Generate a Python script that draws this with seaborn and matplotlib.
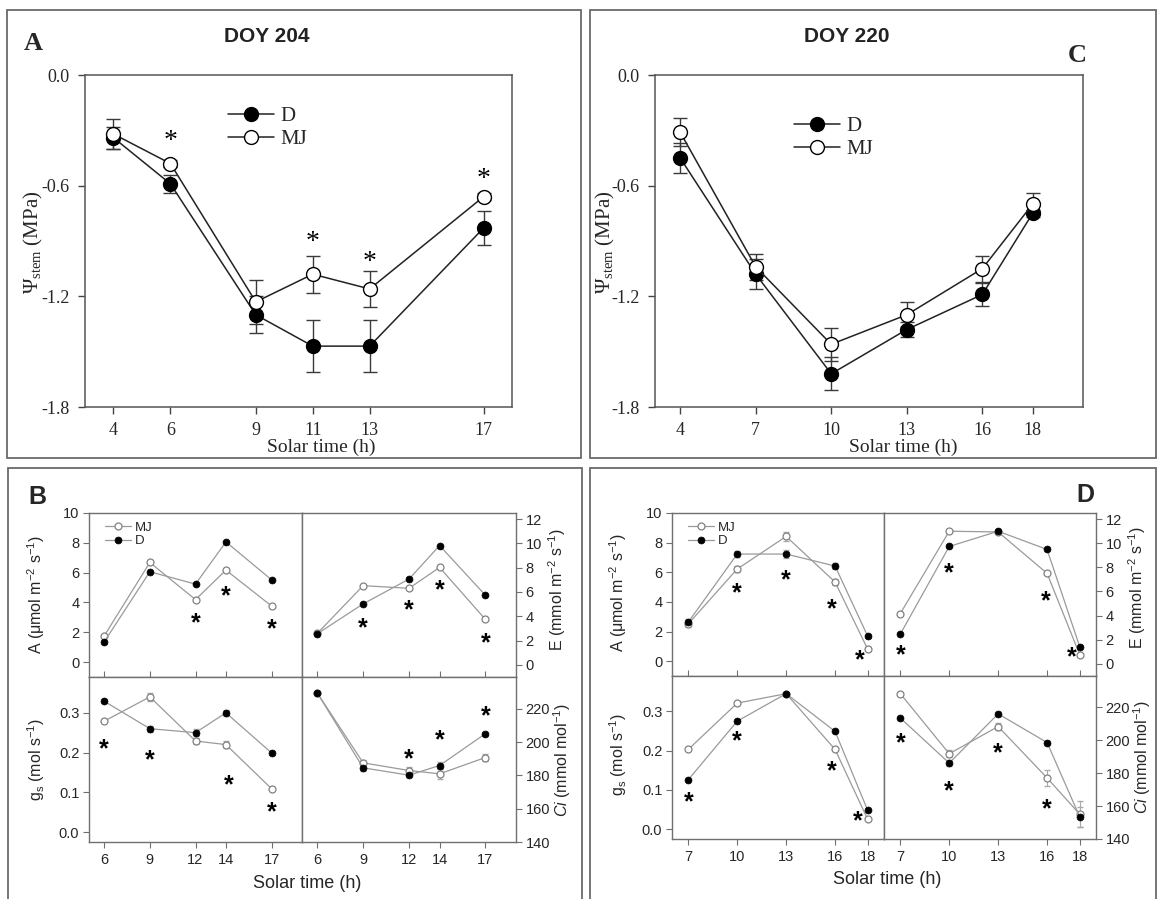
import matplotlib
matplotlib.use("Agg")
import matplotlib.pyplot as plt
from matplotlib.patches import Rectangle
from matplotlib.ticker import FormatStrFormatter
import seaborn as sns

# ---- panel A (DOY 204) stem water potential ----
hours_a = [4, 6, 9, 11, 13, 17]
psi_d_a = [-0.34, -0.59, -1.30, -1.47, -1.47, -0.83]
psi_mj_a = [-0.32, -0.48, -1.23, -1.08, -1.16, -0.66]
err_d_a = [0.06, 0.05, 0.10, 0.14, 0.14, 0.09]
err_mj_a = [0.08, 0.02, 0.12, 0.10, 0.10, 0.02]
star_x_a = [6, 11, 13, 17]
star_y_a = [-0.31, -0.86, -0.97, -0.52]

# ---- panel C (DOY 220) ----
hours_c = [4, 7, 10, 13, 16, 18]
psi_d_c = [-0.45, -1.08, -1.62, -1.38, -1.19, -0.75]
psi_mj_c = [-0.31, -1.04, -1.46, -1.30, -1.05, -0.70]
err_d_c = [0.08, 0.08, 0.09, 0.04, 0.06, 0.02]
err_mj_c = [0.075, 0.07, 0.09, 0.067, 0.07, 0.058]

# ---- panel B (gas exchange, DOY 204) ----
hours_b = [6, 9, 12, 14, 17]
a_mj_b = [1.76, 6.68, 4.19, 6.17, 3.76]
a_d_b = [1.36, 6.06, 5.23, 8.06, 5.52]
e_mj_b = [2.59, 6.52, 6.30, 8.02, 3.74]
e_d_b = [2.56, 5.02, 7.06, 9.82, 5.73]
gs_mj_b = [0.279, 0.340, 0.229, 0.220, 0.109]
gs_d_b = [0.329, 0.260, 0.250, 0.300, 0.199]
ci_mj_b = [229.4, 187.5, 182.9, 180.9, 190.7]
ci_d_b = [229.4, 184.5, 180.1, 185.9, 205.0]
gs_err_mj_b = [0.0, 0.010, 0.008, 0.008, 0.0]
gs_err_d_b = [0.0, 0.008, 0.008, 0.008, 0.006]
ci_err_mj_b = [0, 2, 2, 3, 2]
ci_err_d_b = [0, 2, 1, 2, 1]
star_a_b = ([12, 14, 17], [3.05, 4.88, 2.67])
star_e_b = ([9, 12, 14, 17], [3.55, 5.1, 6.68, 2.37])
star_gs_b = ([6, 9, 14.2, 17], [0.226, 0.197, 0.134, 0.067])
star_ci_b = ([12, 14, 17], [194.1, 205.2, 219.6])

# ---- panel D (gas exchange, DOY 220) ----
hours_d = [7, 10, 13, 16, 18]
a_mj_d = [2.52, 6.22, 8.42, 5.34, 0.81]
a_d_d = [2.64, 7.23, 7.23, 6.42, 1.69]
e_mj_d = [4.17, 10.99, 10.93, 7.50, 0.77]
e_d_d = [2.47, 9.73, 10.99, 9.48, 1.43]
gs_mj_d = [0.203, 0.321, 0.345, 0.203, 0.025]
gs_d_d = [0.126, 0.275, 0.345, 0.249, 0.048]
ci_mj_d = [228.3, 191.8, 208.3, 177.1, 155.1]
ci_d_d = [213.5, 186.1, 216.0, 198.6, 153.5]
a_err_mj_d = [0.2, 0.2, 0.3, 0.2, 0.1]
a_err_d_d = [0.2, 0.2, 0.3, 0.2, 0.1]
ci_err_mj_d = [0, 2, 2, 5, 8]
ci_err_d_d = [0, 2, 1, 1, 6]
star_a_d = ([10, 13, 15.8, 17.5], [5.07, 5.9, 4.0, 0.56])
star_e_d = ([7, 10, 15.9, 17.5], [1.29, 8.05, 5.77, 1.15])
star_gs_d = ([7, 10, 15.8, 17.4], [0.086, 0.241, 0.164, 0.037])
star_ci_d = ([7, 10, 13, 16], [202.3, 173.0, 196.2, 162.0])

W, H = 1159, 899
SERIF = 'Liberation Serif'
SANS = 'Liberation Sans'

sns.set_style("ticks")
plt.rcParams['font.family'] = [SANS, 'DejaVu Sans']
plt.rcParams['axes.unicode_minus'] = False
plt.rcParams['mathtext.fontset'] = 'custom'
plt.rcParams['mathtext.rm'] = SANS
plt.rcParams['mathtext.it'] = SANS + ':italic'
plt.rcParams['mathtext.default'] = 'regular'

fig = plt.figure(figsize=(W / 100, H / 100), dpi=100)


def box(x0, y0, x1, y1):
    return [x0 / W, 1 - y1 / H, (x1 - x0) / W, (y1 - y0) / H]


def ftext(x, y, s, **kw):
    fig.text(x / W, 1 - y / H, s, ha='center', va='center', **kw)


def frame(x0, y0, x1, y1):
    fig.add_artist(Rectangle((x0 / W, 1 - y1 / H), (x1 - x0) / W, (y1 - y0) / H,
                             transform=fig.transFigure, fill=False,
                             ec='#6a6a6a', lw=1.3))


def star(ax, xs, ys, size, family, weight='normal'):
    for x, y in zip(xs, ys):
        ax.annotate('*', (x, y), xytext=(0, -0.56 * size), textcoords='offset points',
                    ha='center', va='baseline', fontsize=size, family=family,
                    fontweight=weight, color='black')


# ================= top panels =================
def top_panel(rect, hours, d, mj, ed, emj, xlim, leg_anchor):
    ax = fig.add_axes(box(*rect))
    ax.errorbar(hours, d, yerr=ed, fmt='none', ecolor='#3a3a3a', elinewidth=1,
                capsize=5, capthick=1, zorder=1)
    ax.errorbar(hours, mj, yerr=emj, fmt='none', ecolor='#3a3a3a', elinewidth=1,
                capsize=5, capthick=1, zorder=1)
    sns.lineplot(x=hours, y=d, ax=ax, color='#222222', linewidth=1.1, marker='o',
                 markersize=10, markerfacecolor='black', markeredgecolor='black',
                 markeredgewidth=1, label='D', zorder=3)
    sns.lineplot(x=hours, y=mj, ax=ax, color='#222222', linewidth=1.1, marker='o',
                 markersize=10, markerfacecolor='white', markeredgecolor='black',
                 markeredgewidth=1, label='MJ', zorder=4)
    ax.set_xlim(xlim)
    ax.set_ylim(-1.8, 0)
    ax.set_xticks(hours)
    ax.set_yticks([0, -0.6, -1.2, -1.8])
    ax.set_yticklabels(['0.0', '-0.6', '-1.2', '-1.8'])
    ax.set_xlabel('')
    ax.set_ylabel('')
    ax.tick_params(direction='out', length=5, width=1, color='#444444',
                   labelsize=13, pad=6)
    for lab in ax.get_xticklabels() + ax.get_yticklabels():
        lab.set_family(SERIF)
    for sp in ax.spines.values():
        sp.set_visible(True)
        sp.set_color('#555555')
        sp.set_linewidth(1.1)
    ax.legend(loc='upper left', bbox_to_anchor=leg_anchor, frameon=False,
              prop={'family': SERIF, 'size': 15}, handlelength=2.2,
              handletextpad=0.3, labelspacing=0.15, borderaxespad=0)
    return ax


frame(7, 10, 581, 458)
frame(590, 10, 1156, 458)
frame(8, 468, 582, 905)
frame(590, 468, 1156, 905)

ax_a = top_panel((85, 75, 512, 407), hours_a, psi_d_a, psi_mj_a, err_d_a, err_mj_a,
                 (3, 18), (0.315, 0.93))
star(ax_a, star_x_a, star_y_a, 20, SERIF)
ax_c = top_panel((655, 75, 1083, 407), hours_c, psi_d_c, psi_mj_c, err_d_c, err_mj_c,
                 (3, 20), (0.305, 0.90))

ftext(267, 36, 'DOY 204', fontsize=15, fontweight='bold', family=SANS, color='#222222')
ftext(847, 36, 'DOY 220', fontsize=15, fontweight='bold', family=SANS, color='#222222')
ftext(33, 43, 'A', fontsize=19, fontweight='bold', family=SERIF)
ftext(1077, 55, 'C', fontsize=19, fontweight='bold', family=SERIF)
ftext(321, 447, 'Solar time (h)', fontsize=14, family=SERIF)
ftext(903, 447, 'Solar time (h)', fontsize=14, family=SERIF)
ftext(33, 242, r'$\Psi_{stem}$ (MPa)', fontsize=15, family=SERIF, rotation=90)
ftext(605, 242, r'$\Psi_{stem}$ (MPa)', fontsize=15, family=SERIF, rotation=90)


# ================= bottom panels =================
GRAY = '#9a9a9a'


def cell(rect, hours, mj, d, xlim, ylim, yticks, fmt, right, bottom,
         emj=None, ed=None, legend=False):
    ax = fig.add_axes(box(*rect))
    if emj is not None:
        ax.errorbar(hours, mj, yerr=emj, fmt='none', ecolor='#aaaaaa',
                    elinewidth=0.8, capsize=2, zorder=1)
    if ed is not None:
        ax.errorbar(hours, d, yerr=ed, fmt='none', ecolor='#aaaaaa',
                    elinewidth=0.8, capsize=2, zorder=1)
    sns.lineplot(x=hours, y=mj, ax=ax, color=GRAY, linewidth=0.9, marker='o',
                 markersize=5, markerfacecolor='white', markeredgecolor='#808080',
                 markeredgewidth=0.9, label='MJ', zorder=3)
    sns.lineplot(x=hours, y=d, ax=ax, color=GRAY, linewidth=0.9, marker='o',
                 markersize=5, markerfacecolor='black', markeredgecolor='black',
                 markeredgewidth=0.5, label='D', zorder=4)
    ax.set_xlim(xlim)
    ax.set_ylim(ylim)
    ax.set_xticks(hours)
    ax.set_yticks(yticks)
    ax.yaxis.set_major_formatter(FormatStrFormatter(fmt))
    ax.set_xlabel('')
    ax.set_ylabel('')
    for sp in ax.spines.values():
        sp.set_visible(True)
        sp.set_color('#707070')
        sp.set_linewidth(1)
    if right:
        ax.yaxis.tick_right()
    ax.tick_params(axis='y', direction='out', length=4, width=0.8, color='#707070',
                   labelsize=10.5, pad=3)
    if bottom:
        ax.tick_params(axis='x', direction='out', length=4, width=0.8,
                       color='#707070', labelsize=10.5, pad=4)
    else:
        ax.tick_params(axis='x', direction='in', length=4, width=0.8,
                       color='#707070', labelbottom=False)
    if legend:
        ax.legend(loc='upper left', bbox_to_anchor=(0.05, 0.98), frameon=False,
                  fontsize=9.5, handlelength=2.0, handletextpad=0.3,
                  labelspacing=0.1, borderaxespad=0)
    else:
        ax.get_legend().remove()
    return ax


def gas_panel(xs, ys, hours, data, xlim, stars, errs, legend_first=True):
    x0, xm, x1 = xs
    y0, ym, y1 = ys
    a_mj, a_d, e_mj, e_d, gs_mj, gs_d, ci_mj, ci_d = data
    ea_mj, ea_d, egs_mj, egs_d, eci_mj, eci_d = errs
    ax1 = cell((x0, y0, xm, ym), hours, a_mj, a_d, xlim, (-1, 10), [0, 2, 4, 6, 8, 10],
               '%d', False, False, ea_mj, ea_d, legend=legend_first)
    ax2 = cell((xm, y0, x1, ym), hours, e_mj, e_d, xlim, (-1, 12.5),
               [0, 2, 4, 6, 8, 10, 12], '%d', True, False)
    ax3 = cell((x0, ym, xm, y1), hours, gs_mj, gs_d, xlim, (-0.025, 0.39),
               [0.0, 0.1, 0.2, 0.3], '%.1f', False, True, egs_mj, egs_d)
    ax4 = cell((xm, ym, x1, y1), hours, ci_mj, ci_d, xlim, (140, 239),
               [140, 160, 180, 200, 220], '%d', True, True, eci_mj, eci_d)
    for ax, (sx, sy) in zip([ax1, ax2, ax3, ax4], stars):
        star(ax, sx, sy, 18, SANS, 'bold')


gas_panel((89, 302, 516), (513, 677, 842), hours_b,
          (a_mj_b, a_d_b, e_mj_b, e_d_b, gs_mj_b, gs_d_b, ci_mj_b, ci_d_b),
          (5, 19), (star_a_b, star_e_b, star_gs_b, star_ci_b),
          (None, None, gs_err_mj_b, gs_err_d_b, ci_err_mj_b, ci_err_d_b))
gas_panel((672, 884, 1096), (513, 676, 839), hours_d,
          (a_mj_d, a_d_d, e_mj_d, e_d_d, gs_mj_d, gs_d_d, ci_mj_d, ci_d_d),
          (6, 19), (star_a_d, star_e_d, star_gs_d, star_ci_d),
          (a_err_mj_d, a_err_d_d, None, None, ci_err_mj_d, ci_err_d_d))

ftext(37, 497, 'B', fontsize=18, fontweight='bold', family=SANS)
ftext(1085, 495, 'D', fontsize=18, fontweight='bold', family=SANS)

lab_kw = dict(fontsize=11.5, family=SANS, rotation=90)
ftext(36, 595, u'A (\u03bcmol m$^{-2}$ s$^{-1}$)', **lab_kw)
ftext(36, 760, r'g$_s$ (mol s$^{-1}$)', **lab_kw)
ftext(557, 590, r'E (mmol m$^{-2}$ s$^{-1}$)', **lab_kw)
ftext(562, 760, r'$\mathit{Ci}$ (mmol mol$^{-1}$)', **lab_kw)
ftext(618, 593, u'A (\u03bcmol m$^{-2}$ s$^{-1}$)', **lab_kw)
ftext(618, 755, r'g$_s$ (mol s$^{-1}$)', **lab_kw)
ftext(1137, 588, r'E (mmol m$^{-2}$ s$^{-1}$)', **lab_kw)
ftext(1142, 757, r'$\mathit{Ci}$ (mmol mol$^{-1}$)', **lab_kw)

ftext(307, 883, 'Solar time (h)', fontsize=13, family=SANS)
ftext(887, 880, 'Solar time (h)', fontsize=13, family=SANS)

fig.savefig('out.png', dpi=100)
